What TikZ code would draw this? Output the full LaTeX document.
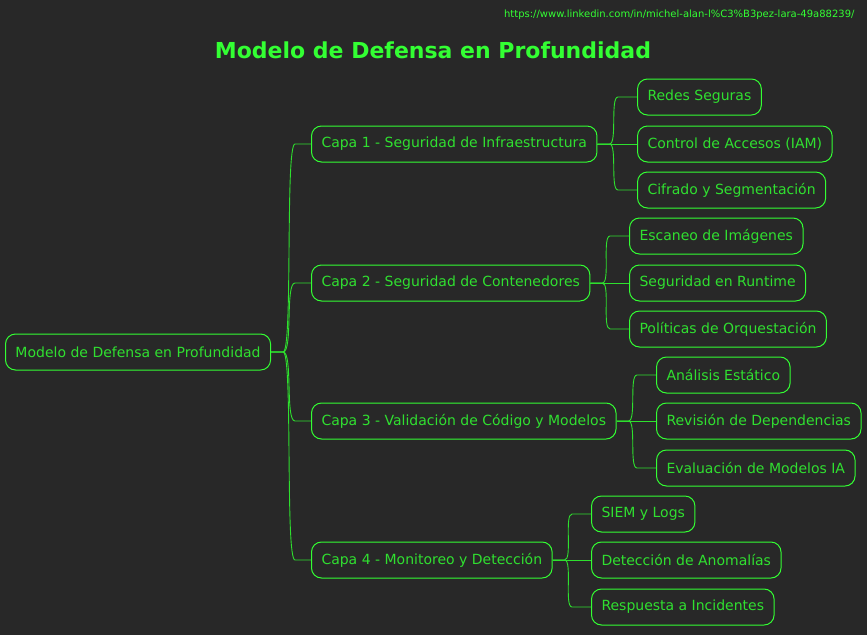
\documentclass[tikz,border=0pt]{standalone}
\usepackage{fontspec}
\setmainfont{DejaVu Sans}
\usepackage{tikz}
\usetikzlibrary{
calc,
positioning
}
\definecolor{MMBack}{HTML}{282828}
\definecolor{MMGreen}{HTML}{33FF33}
\definecolor{MMText}{HTML}{30E030}
\definecolor{MMLine}{HTML}{2EE02E}

\tikzset{
mmbox/.style={draw=MMGreen, line width=1pt, rounded corners=10pt, text=MMText,
  font=\fontsize{14}{16}\selectfont, inner xsep=10pt, inner ysep=0pt,
  minimum height=36pt, anchor=west},
link/.style={draw=MMLine, line width=0.9pt}
}

\begin{document}
\begin{tikzpicture}[x=1pt, y=-1pt]
\fill[MMBack] (0,0) rectangle (867,635);
\useasboundingbox (0,0) rectangle (867,635);
\node[anchor=east, text=MMGreen, font=\fontsize{10}{12}\selectfont] (url) at (858,15) {https://www.linkedin.com/in/michel-alan-l\%C3\%B3pez-lara-49a88239/};
\node[text=MMGreen, font=\fontsize{22}{26}\selectfont\bfseries] (title) at (433,50) {Modelo de Defensa en Profundidad};
% root and layers
\node[mmbox] (root) at (5,352) {Modelo de Defensa en Profundidad};
\node[mmbox] (c1) at (311,144) {Capa 1 - Seguridad de Infraestructura};
\node[mmbox] (c2) at (311,283) {Capa 2 - Seguridad de Contenedores};
\node[mmbox] (c3) at (311,421) {Capa 3 - Validación de Código y Modelos};
\node[mmbox] (c4) at (311,560) {Capa 4 - Monitoreo y Detección};
% leaves
\node[mmbox] (l11) at (637,97) {Redes Seguras};
\node[mmbox] (l12) at (637,144) {Control de Accesos (IAM)};
\node[mmbox] (l13) at (637,190) {Cifrado y Segmentación};
\node[mmbox] (l21) at (629,236) {Escaneo de Imágenes};
\node[mmbox] (l22) at (629,283) {Seguridad en Runtime};
\node[mmbox] (l23) at (629,329) {Políticas de Orquestación};
\node[mmbox] (l31) at (656,375) {Análisis Estático};
\node[mmbox] (l32) at (656,421) {Revisión de Dependencias};
\node[mmbox] (l33) at (656,468) {Evaluación de Modelos IA};
\node[mmbox] (l41) at (591,514) {SIEM y Logs};
\node[mmbox] (l42) at (591,560) {Detección de Anomalías};
\node[mmbox] (l43) at (591,607) {Respuesta a Incidentes};
% connectors
\draw[link] (root.east) -- ++(12,0) .. controls +(10,0) and +(-10,0) .. ($(c1.west)+(-16,0)$) -- (c1.west);
\draw[link] (root.east) -- ++(12,0) .. controls +(10,0) and +(-10,0) .. ($(c2.west)+(-16,0)$) -- (c2.west);
\draw[link] (root.east) -- ++(12,0) .. controls +(10,0) and +(-10,0) .. ($(c3.west)+(-16,0)$) -- (c3.west);
\draw[link] (root.east) -- ++(12,0) .. controls +(10,0) and +(-10,0) .. ($(c4.west)+(-16,0)$) -- (c4.west);
\draw[link] (c1.east) -- ++(12,0) .. controls +(8,0) and +(-8,0) .. ($(l11.west)+(-19,0)$) -- (l11.west);
\draw[link] (c1.east) -- (l12.west);
\draw[link] (c1.east) -- ++(12,0) .. controls +(8,0) and +(-8,0) .. ($(l13.west)+(-19,0)$) -- (l13.west);
\draw[link] (c2.east) -- ++(12,0) .. controls +(8,0) and +(-8,0) .. ($(l21.west)+(-19,0)$) -- (l21.west);
\draw[link] (c2.east) -- (l22.west);
\draw[link] (c2.east) -- ++(12,0) .. controls +(8,0) and +(-8,0) .. ($(l23.west)+(-19,0)$) -- (l23.west);
\draw[link] (c3.east) -- ++(12,0) .. controls +(8,0) and +(-8,0) .. ($(l31.west)+(-19,0)$) -- (l31.west);
\draw[link] (c3.east) -- (l32.west);
\draw[link] (c3.east) -- ++(12,0) .. controls +(8,0) and +(-8,0) .. ($(l33.west)+(-19,0)$) -- (l33.west);
\draw[link] (c4.east) -- ++(12,0) .. controls +(8,0) and +(-8,0) .. ($(l41.west)+(-19,0)$) -- (l41.west);
\draw[link] (c4.east) -- (l42.west);
\draw[link] (c4.east) -- ++(12,0) .. controls +(8,0) and +(-8,0) .. ($(l43.west)+(-19,0)$) -- (l43.west);
\end{tikzpicture}
\end{document}
